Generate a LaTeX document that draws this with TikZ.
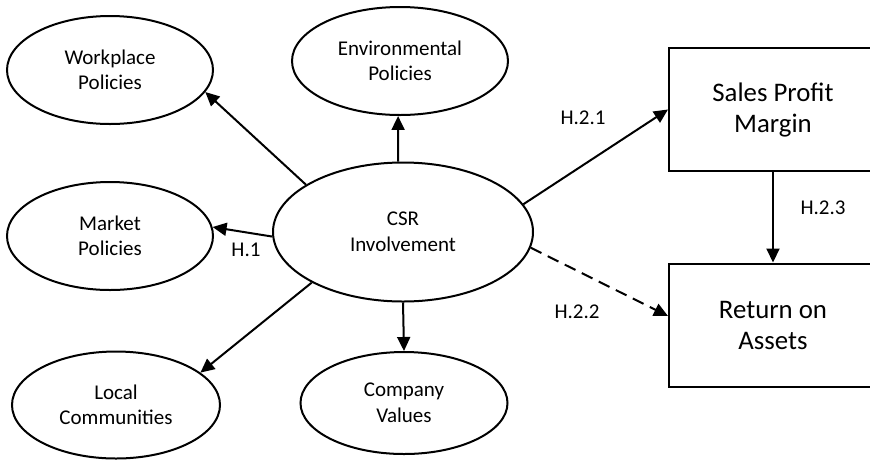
\documentclass[tikz,border=0pt]{standalone}
\usepackage{fontspec}
\setmainfont{Carlito}
\usetikzlibrary{arrows.meta,shapes.geometric}

\begin{document}
\begin{tikzpicture}[x=1pt,y=-1pt,
    factor/.style={draw,ellipse,line width=2pt,inner sep=0pt,align=center,
      font=\fontsize{21}{25.5}\selectfont},
    outcome/.style={draw,rectangle,line width=2pt,inner sep=0pt,align=center,
      minimum width=208pt,minimum height=123pt,font=\fontsize{26.8}{31}\selectfont},
    link/.style={line width=2pt,-{Triangle[length=14pt,width=13pt]}},
    hyp/.style={inner sep=0pt,font=\fontsize{21}{24}\selectfont}]

        \useasboundingbox (0,0) rectangle (870,459);
        \clip (0,0) rectangle (870,459);

        % constructs
        \node[factor,minimum width=206pt,minimum height=108pt] (work) at (110,70) {Workplace\\Policies};
        \node[factor,minimum width=216pt,minimum height=108pt] (env) at (400,61) {Environmental\\Policies};
        \node[factor,minimum width=206pt,minimum height=108pt] (market) at (110,236) {Market\\Policies};
        \node[factor,minimum width=260pt,minimum height=139pt] (csr) at (403,232) {CSR\\Involvement};
        \node[factor,minimum width=208pt,minimum height=107pt] (local) at (116,405) {Local\\Communities};
        \node[factor,minimum width=207pt,minimum height=102pt] (company) at (404,403) {Company\\Values};

        \node[outcome] (sales) at (773,109.5) {Sales Profit\\Margin};
        \node[outcome] (roa) at (773,325) {Return on\\Assets};

        % paths
        \draw[link] (csr.154) -- (work.347);
        \draw[link] (csr.94) -- (env.268);
        \draw[link] (csr.182) -- (market.5);
        \draw[link] (csr.209) -- (local.21);
        \draw[link] (csr.270) -- (company.90);
        \draw[link] (csr.13) -- (sales.west);
        \draw[link,dash pattern=on 12pt off 7pt] (csr.353) -- ([yshift=9pt]roa.west);
        \draw[link] (sales.south) -- (roa.north);

        % hypotheses
        \node[hyp] (h1) at (246,250) {H.1};
        \node[hyp] (h21) at (583,118) {H.2.1};
        \node[hyp] (h22) at (577,312) {H.2.2};
        \node[hyp] (h23) at (823,208) {H.2.3};

\end{tikzpicture}
\end{document}
